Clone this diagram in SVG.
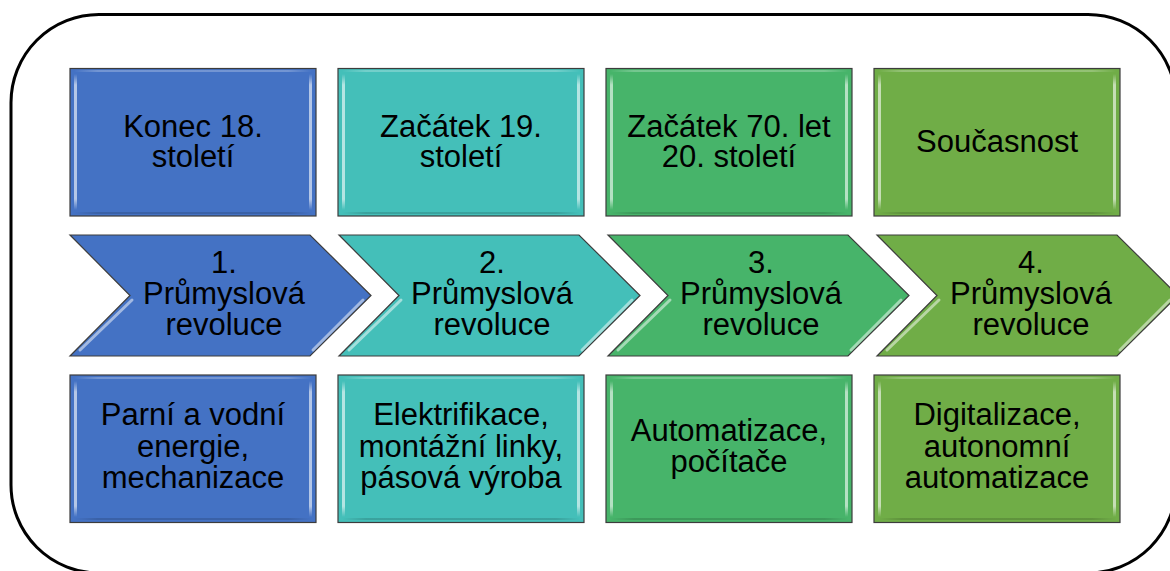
<svg xmlns="http://www.w3.org/2000/svg" width="1170" height="571" viewBox="0 0 1170 571">
  <defs>
    <!-- soft bevel highlight: bright in the middle, fading at both ends -->
    <linearGradient id="vHl" x1="0" y1="0" x2="0" y2="1">
      <stop offset="0" stop-color="#ffffff" stop-opacity="0"/>
      <stop offset="0.08" stop-color="#ffffff" stop-opacity="0.6"/>
      <stop offset="0.92" stop-color="#ffffff" stop-opacity="0.6"/>
      <stop offset="1" stop-color="#ffffff" stop-opacity="0"/>
    </linearGradient>
    <linearGradient id="hHl" x1="0" y1="0" x2="1" y2="0">
      <stop offset="0" stop-color="#ffffff" stop-opacity="0"/>
      <stop offset="0.1" stop-color="#ffffff" stop-opacity="0.25"/>
      <stop offset="0.9" stop-color="#ffffff" stop-opacity="0.25"/>
      <stop offset="1" stop-color="#ffffff" stop-opacity="0"/>
    </linearGradient>
    <linearGradient id="hDk" x1="0" y1="0" x2="1" y2="0">
      <stop offset="0" stop-color="#000000" stop-opacity="0"/>
      <stop offset="0.1" stop-color="#000000" stop-opacity="0.15"/>
      <stop offset="0.9" stop-color="#000000" stop-opacity="0.15"/>
      <stop offset="1" stop-color="#000000" stop-opacity="0"/>
    </linearGradient>
  </defs>
  <style>
    .frame { fill: #ffffff; stroke: #000000; stroke-width: 3; }
    .box { stroke: #3c3c3c; stroke-width: 1.2; }
    .c1 { fill: #4472C4; }
    .c2 { fill: #44BFB9; }
    .c3 { fill: #47B46A; }
    .c4 { fill: #70AD47; }
    .hl { fill: url(#vHl); }
    .top { fill: url(#hHl); }
    .bot { fill: url(#hDk); }
    .edge { stroke: #ffffff; stroke-opacity: 0.5; stroke-width: 3; stroke-linecap: round; fill: none; }
    .lbl { font-family: "Liberation Sans", Arial, sans-serif; font-size: 31px; fill: #000000; text-anchor: middle; }
  </style>

  <!-- rounded outer frame -->
  <rect id="frame" class="frame" x="11" y="14.5" width="1165" height="558.5" rx="88" ry="88"/>

  <!-- row 1: periods -->
  <g id="period1">
    <rect class="box c1" x="70" y="68.5" width="246" height="147.5"/>
    <rect class="hl" x="74" y="74" width="3" height="136"/>
    <rect class="hl" x="309" y="74" width="3" height="136"/>
    <rect class="top" x="74" y="70" width="238" height="2"/>
    <rect class="bot" x="74" y="212" width="238" height="2"/>
    <text class="lbl" x="193" y="137">Konec 18.<tspan x="193" dy="30">století</tspan></text>
  </g>
  <g id="period2">
    <rect class="box c2" x="338" y="68.5" width="246" height="147.5"/>
    <rect class="hl" x="342" y="74" width="3" height="136"/>
    <rect class="hl" x="577" y="74" width="3" height="136"/>
    <rect class="top" x="342" y="70" width="238" height="2"/>
    <rect class="bot" x="342" y="212" width="238" height="2"/>
    <text class="lbl" x="461" y="137">Začátek 19.<tspan x="461" dy="30">století</tspan></text>
  </g>
  <g id="period3">
    <rect class="box c3" x="606" y="68.5" width="246" height="147.5"/>
    <rect class="hl" x="610" y="74" width="3" height="136"/>
    <rect class="hl" x="845" y="74" width="3" height="136"/>
    <rect class="top" x="610" y="70" width="238" height="2"/>
    <rect class="bot" x="610" y="212" width="238" height="2"/>
    <text class="lbl" x="729" y="137">Začátek 70. let<tspan x="729" dy="30">20. století</tspan></text>
  </g>
  <g id="period4">
    <rect class="box c4" x="874" y="68.5" width="246" height="147.5"/>
    <rect class="hl" x="878" y="74" width="3" height="136"/>
    <rect class="hl" x="1113" y="74" width="3" height="136"/>
    <rect class="top" x="878" y="70" width="238" height="2"/>
    <rect class="bot" x="878" y="212" width="238" height="2"/>
    <text class="lbl" x="997" y="152">Současnost</text>
  </g>

  <!-- row 2: revolutions as chevrons -->
  <g id="revolution1">
    <polygon class="box c1" points="70,235 310,235 371,295.5 310,356 70,356 130,295.5"/>
    <line class="edge" x1="80" y1="350" x2="132" y2="300"/>
    <line class="edge" x1="313" y1="350" x2="363" y2="300"/>
    <text class="lbl" x="224" y="273">1.<tspan x="224" dy="31">Průmyslová</tspan><tspan x="224" dy="31">revoluce</tspan></text>
  </g>
  <g id="revolution2">
    <polygon class="box c2" points="339,235 579,235 640,295.5 579,356 339,356 399,295.5"/>
    <line class="edge" x1="349" y1="350" x2="401" y2="300"/>
    <line class="edge" x1="582" y1="350" x2="632" y2="300"/>
    <text class="lbl" x="492" y="273">2.<tspan x="492" dy="31">Průmyslová</tspan><tspan x="492" dy="31">revoluce</tspan></text>
  </g>
  <g id="revolution3">
    <polygon class="box c3" points="608,235 848,235 909,295.5 848,356 608,356 668,295.5"/>
    <line class="edge" x1="618" y1="350" x2="670" y2="300"/>
    <line class="edge" x1="851" y1="350" x2="901" y2="300"/>
    <text class="lbl" x="761" y="273">3.<tspan x="761" dy="31">Průmyslová</tspan><tspan x="761" dy="31">revoluce</tspan></text>
  </g>
  <g id="revolution4">
    <polygon class="box c4" points="877,235 1117,235 1178,295.5 1117,356 877,356 937,295.5"/>
    <line class="edge" x1="887" y1="350" x2="939" y2="300"/>
    <line class="edge" x1="1120" y1="350" x2="1170" y2="300"/>
    <text class="lbl" x="1031" y="273">4.<tspan x="1031" dy="31">Průmyslová</tspan><tspan x="1031" dy="31">revoluce</tspan></text>
  </g>

  <!-- row 3: key technologies -->
  <g id="tech1">
    <rect class="box c1" x="70" y="375" width="246" height="147.5"/>
    <rect class="hl" x="74" y="381" width="3" height="136"/>
    <rect class="hl" x="309" y="381" width="3" height="136"/>
    <rect class="top" x="74" y="377" width="238" height="2"/>
    <rect class="bot" x="74" y="518" width="238" height="2"/>
    <text class="lbl" x="193" y="425">Parní a vodní<tspan x="193" dy="31.5">energie,</tspan><tspan x="193" dy="31.5">mechanizace</tspan></text>
  </g>
  <g id="tech2">
    <rect class="box c2" x="338" y="375" width="246" height="147.5"/>
    <rect class="hl" x="342" y="381" width="3" height="136"/>
    <rect class="hl" x="577" y="381" width="3" height="136"/>
    <rect class="top" x="342" y="377" width="238" height="2"/>
    <rect class="bot" x="342" y="518" width="238" height="2"/>
    <text class="lbl" x="461" y="425">Elektrifikace,<tspan x="461" dy="31.5">montážní linky,</tspan><tspan x="461" dy="31.5">pásová výroba</tspan></text>
  </g>
  <g id="tech3">
    <rect class="box c3" x="606" y="375" width="246" height="147.5"/>
    <rect class="hl" x="610" y="381" width="3" height="136"/>
    <rect class="hl" x="845" y="381" width="3" height="136"/>
    <rect class="top" x="610" y="377" width="238" height="2"/>
    <rect class="bot" x="610" y="518" width="238" height="2"/>
    <text class="lbl" x="729" y="441">Automatizace,<tspan x="729" dy="31">počítače</tspan></text>
  </g>
  <g id="tech4">
    <rect class="box c4" x="874" y="375" width="246" height="147.5"/>
    <rect class="hl" x="878" y="381" width="3" height="136"/>
    <rect class="hl" x="1113" y="381" width="3" height="136"/>
    <rect class="top" x="878" y="377" width="238" height="2"/>
    <rect class="bot" x="878" y="518" width="238" height="2"/>
    <text class="lbl" x="997" y="425">Digitalizace,<tspan x="997" dy="31.5">autonomní</tspan><tspan x="997" dy="31.5">automatizace</tspan></text>
  </g>
</svg>
